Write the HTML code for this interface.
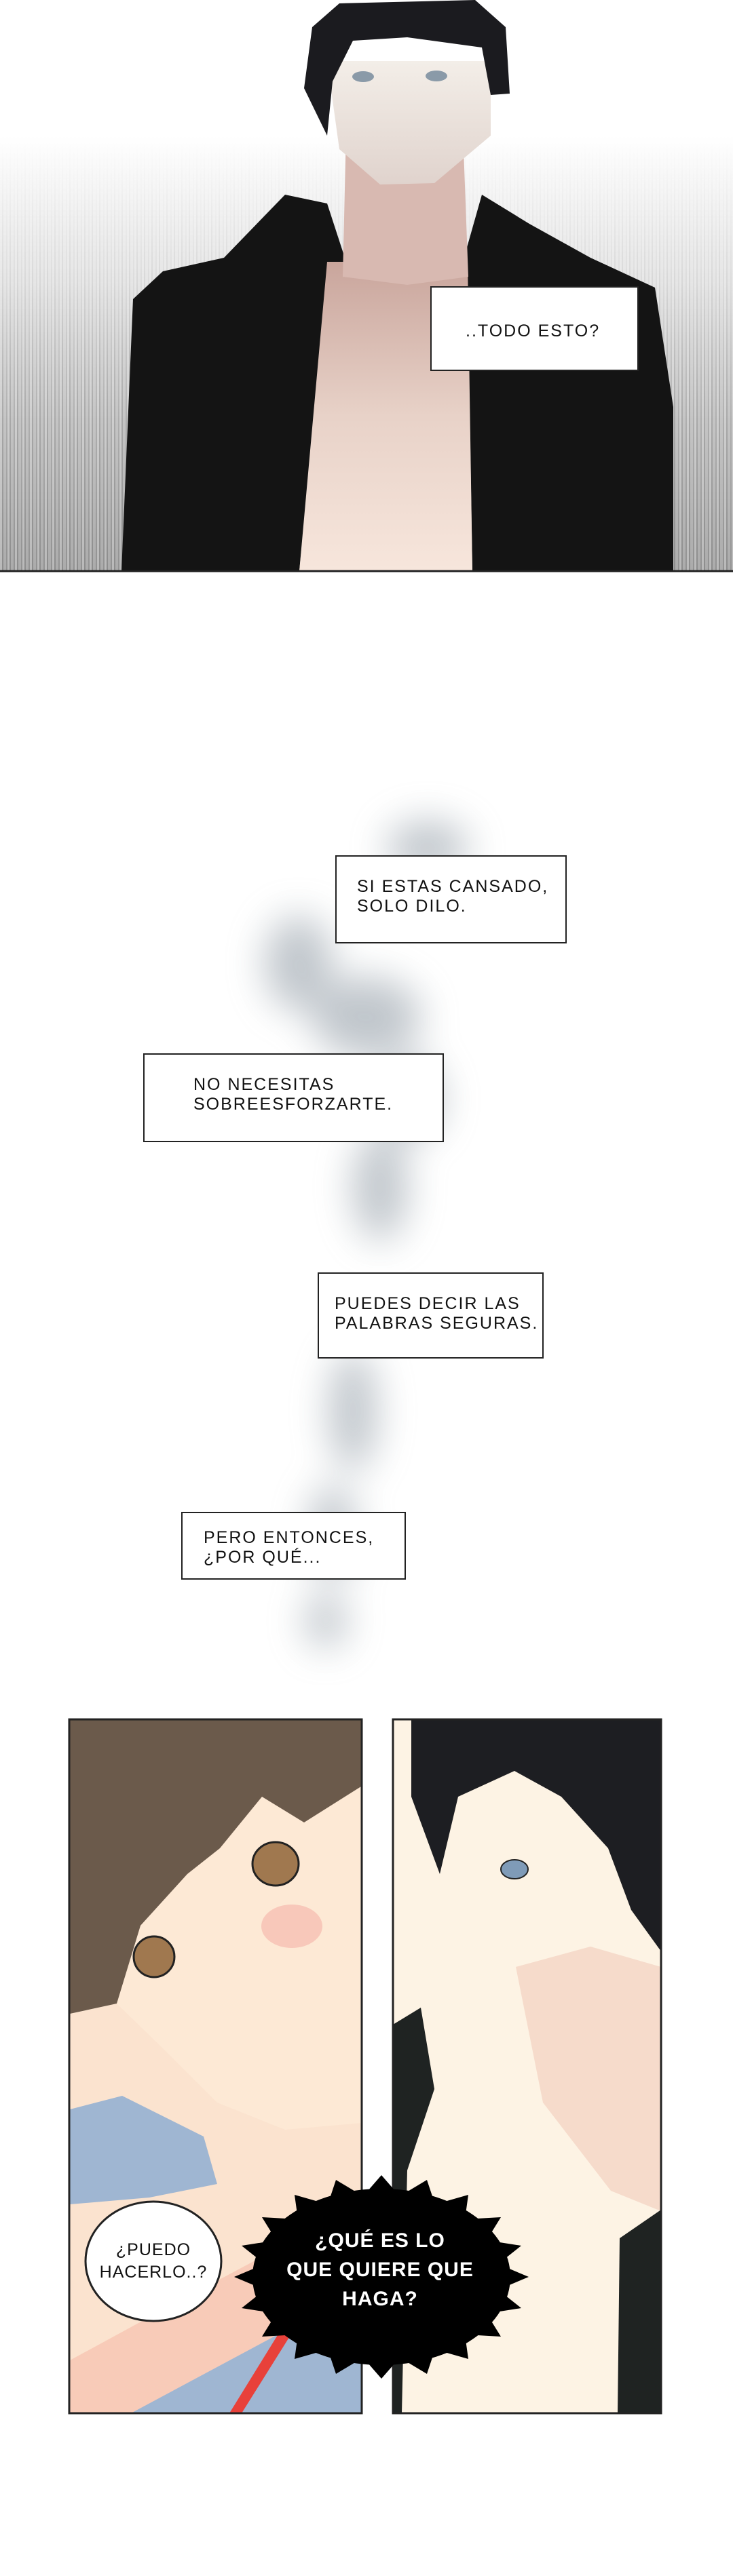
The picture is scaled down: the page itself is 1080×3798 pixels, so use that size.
<!DOCTYPE html>
<html><head><meta charset="utf-8"><style>
html,body{margin:0;padding:0;background:#fff;}
body{width:1080px;height:3798px;position:relative;overflow:hidden;font-family:"Liberation Sans",sans-serif;}
.bg1{position:absolute;left:0;top:0;width:1080px;height:842px;
background:linear-gradient(to bottom,#fff 0px,#fff 200px,#e2e2e2 420px,#b8b8b8 620px,#9a9a9a 842px);}
.stripes{position:absolute;left:0;top:200px;width:1080px;height:642px;opacity:.35;
background:repeating-linear-gradient(to right,rgba(255,255,255,.9) 0 3px,rgba(0,0,0,.25) 3px 5px,rgba(255,255,255,.5) 5px 9px,rgba(0,0,0,.15) 9px 11px);
-webkit-mask-image:linear-gradient(to bottom,transparent,black 60%);mask-image:linear-gradient(to bottom,transparent,black 60%);}
.box{position:absolute;background:#fff;border:2px solid #222;box-sizing:border-box;font-size:25px;letter-spacing:2px;line-height:29px;color:#111;text-transform:uppercase;}
svg{position:absolute;left:0;top:0;}
</style></head><body>
<div class="bg1"></div><div class="stripes"></div>
<svg width="1080" height="3798" viewBox="0 0 1080 3798">
<defs>
<filter id="bl" x="-50%" y="-50%" width="200%" height="200%"><feGaussianBlur stdDeviation="28"/></filter>
<linearGradient id="chest" x1="0" y1="0" x2="0" y2="1"><stop offset="0" stop-color="#c9a59c"/><stop offset=".5" stop-color="#e8d2c8"/><stop offset="1" stop-color="#f7e6dc"/></linearGradient>
<linearGradient id="face" x1="0" y1="0" x2="0" y2="1"><stop offset="0" stop-color="#f3eee8"/><stop offset="1" stop-color="#e0d3cd"/></linearGradient>
</defs>
<!-- top panel figure -->
<polygon points="196,441 240,400 330,380 420,287 482,300 510,386 482,420 441,842 179,842" fill="#141414"/>
<polygon points="710,287 780,330 870,380 965,424 992,600 992,842 696,842 689,420 682,386" fill="#141414"/>
<polygon points="482,386 689,386 696,842 441,842" fill="url(#chest)"/>
<polygon points="510,193 682,193 690,408 600,420 505,408" fill="#d8b9b1"/>
<path d="M482,90 L723,90 L723,200 L640,270 L560,272 L500,220 Z" fill="url(#face)"/>
<path d="M448,130 L460,40 L500,5 L700,0 L745,40 L751,138 L723,140 L710,70 L600,55 L520,60 L490,120 L482,200 Z" fill="#1b1b1f"/>
<ellipse cx="535" cy="113" rx="16" ry="8" fill="#8a9aa8"/><ellipse cx="643" cy="112" rx="16" ry="8" fill="#8a9aa8"/>
<line x1="0" y1="842" x2="1080" y2="842" stroke="#222" stroke-width="3"/>
<!-- smoke -->
<g filter="url(#bl)" fill="#8d98a2" opacity=".55">
<ellipse cx="630" cy="1250" rx="60" ry="40"/>
<ellipse cx="440" cy="1420" rx="50" ry="70"/>
<ellipse cx="540" cy="1500" rx="80" ry="60"/>
<ellipse cx="600" cy="1620" rx="50" ry="60"/>
<ellipse cx="560" cy="1750" rx="40" ry="80"/>
<ellipse cx="520" cy="2080" rx="35" ry="90"/>
<ellipse cx="490" cy="2260" rx="35" ry="70"/>
<ellipse cx="480" cy="2390" rx="30" ry="40"/>
</g>
<!-- left bottom panel -->
<rect x="102" y="2535" width="431" height="1023" fill="#fde9d5"/>
<polygon points="103,2970 172,2954 240,3020 320,3100 420,3140 533,3130 533,3558 103,3558" fill="#fbe3cf"/>
<polygon points="103,3480 250,3400 400,3320 533,3290 533,3558 193,3558 103,3558" fill="#f6c1ae" opacity=".7"/>
<polygon points="103,3110 180,3090 300,3150 320,3220 220,3240 103,3250" fill="#9fb6d2"/>
<polygon points="193,3558 413,3440 533,3410 533,3558" fill="#9fb6d2"/>
<polygon points="338,3558 356,3558 428,3443 412,3438" fill="#e8413a"/>
<polygon points="103,2535 532,2535 532,2634 448,2687 386,2649 324,2725 276,2763 207,2839 172,2954 103,2969" fill="#6b5a4b"/>
<ellipse cx="430" cy="2840" rx="45" ry="32" fill="#f5b2a8" opacity=".6"/>
<ellipse cx="406" cy="2748" rx="34" ry="32" fill="#a0784f" stroke="#222" stroke-width="3"/>
<ellipse cx="227" cy="2885" rx="30" ry="30" fill="#a0784f" stroke="#222" stroke-width="3"/>
<rect x="102" y="2535" width="431" height="1023" fill="none" stroke="#222" stroke-width="3"/>
<!-- right bottom panel -->
<rect x="579" y="2535" width="395" height="1023" fill="#fdf3e4"/>
<polygon points="760,2900 870,2870 974,2900 974,3260 900,3230 800,3100" fill="#f0c3b2" opacity=".5"/>
<polygon points="606,2535 974,2535 974,2877 930,2816 896,2725 827,2649 758,2611 675,2649 648,2763 620,2687 606,2649" fill="#1d1e22"/>
<polygon points="579,2985 620,2960 640,3080 600,3200 592,3558 579,3558" fill="#1f2322"/>
<polygon points="913,3300 974,3258 974,3558 910,3558" fill="#1f2322"/>
<ellipse cx="758" cy="2756" rx="20" ry="14" fill="#7f9bb8" stroke="#222" stroke-width="2"/>
<rect x="579" y="2535" width="395" height="1023" fill="none" stroke="#222" stroke-width="3"/>
<!-- speech bubble -->
<ellipse cx="226" cy="3334" rx="100" ry="88" fill="#fff" stroke="#222" stroke-width="3"/>
<text x="226" y="3325" font-family="Liberation Sans, sans-serif" font-size="25" text-anchor="middle" fill="#111" letter-spacing="1">¿PUEDO</text>
<text x="226" y="3358" font-family="Liberation Sans, sans-serif" font-size="25" text-anchor="middle" fill="#111" letter-spacing="1">HACERLO..?</text>
<!-- burst -->
<ellipse cx="562" cy="3357" rx="190" ry="130" fill="#000"/>
<polygon fill="#000" points="779,3357 734,3376 768,3403 717,3411 738,3445 685,3442 690,3478 641,3464 629,3500 589,3476 562,3507 535,3476 495,3500 483,3464 434,3478 439,3442 386,3445 407,3411 356,3403 390,3376 345,3357 390,3338 356,3311 407,3303 386,3269 439,3272 434,3236 483,3250 495,3214 535,3238 562,3207 589,3238 629,3214 641,3250 690,3236 685,3272 738,3269 717,3303 768,3311 734,3338"/>
<g font-family="Liberation Sans, sans-serif" font-size="30" font-weight="bold" fill="#fff" text-anchor="middle" letter-spacing="1">
<text x="560" y="3313">¿QUÉ ES LO</text>
<text x="560" y="3356">QUE QUIERE QUE</text>
<text x="560" y="3399">HAGA?</text>
</g>
</svg>
<div class="box" style="left:634px;top:422px;width:307px;height:125px;padding:50px 0 0 50px;">..TODO ESTO?</div>
<div class="box" style="left:494px;top:1261px;width:341px;height:130px;padding:30px 0 0 30px;">SI ESTAS CANSADO,<br>SOLO DILO.</div>
<div class="box" style="left:211px;top:1553px;width:443px;height:131px;padding:30px 0 0 72px;">NO NECESITAS<br>SOBREESFORZARTE.</div>
<div class="box" style="left:468px;top:1876px;width:333px;height:127px;padding:30px 0 0 23px;">PUEDES DECIR LAS<br>PALABRAS SEGURAS.</div>
<div class="box" style="left:267px;top:2229px;width:331px;height:100px;padding:22px 0 0 31px;">PERO ENTONCES,<br>¿POR QUÉ...</div>
</body></html>
